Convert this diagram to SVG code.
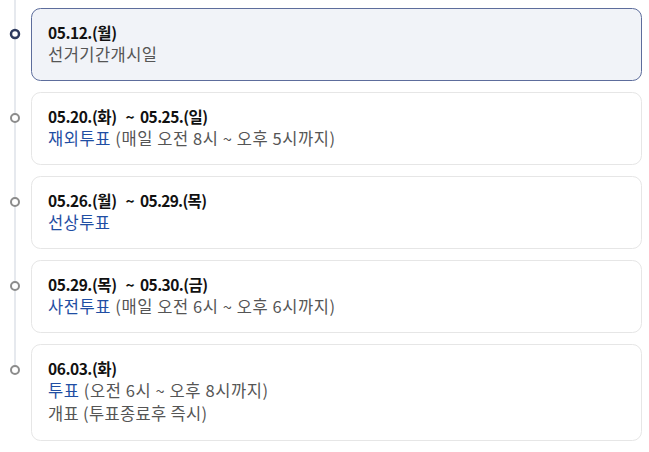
<svg xmlns="http://www.w3.org/2000/svg" width="649" height="452" viewBox="0 0 649 452">
<style>
.card{fill:#ffffff;stroke:#e6e6e6;stroke-width:1}
.active{fill:#f1f3f8;stroke:#5d6d9c;stroke-width:1}
.dot{fill:#ffffff;stroke:#8c8c8c;stroke-width:2}
.dot1{fill:#ffffff;stroke:#2e3a5e;stroke-width:2.5}
.t{font-family:"Noto Sans CJK KR","Noto Sans",sans-serif;font-size:15.5px;font-weight:bold;fill:#111111}
.s{font-family:"Noto Sans CJK KR","Noto Sans",sans-serif;font-size:16.5px;fill:#555555}
.b{fill:#1f4ea3}
</style>
<g id="connectors">
<line x1="15" y1="0" x2="15" y2="366" stroke="#e6e9ee" stroke-width="2"/>
</g>
<g id="n1">
<rect class="active" x="31.5" y="8.5" width="610" height="72" rx="9"/>
<circle class="dot1" cx="15" cy="34" r="4"/>
<text class="t" x="48" y="39" textLength="69" lengthAdjust="spacing">05.12.(월)</text>
<text class="s" x="48" y="61" textLength="109" lengthAdjust="spacing">선거기간개시일</text>
</g>
<g id="n2">
<rect class="card" x="31.5" y="92.5" width="610" height="72" rx="9"/>
<circle class="dot" cx="15" cy="118" r="4"/>
<text class="t" y="123"><tspan x="48" textLength="69" lengthAdjust="spacing">05.20.(화)</tspan><tspan x="125.5">~</tspan><tspan x="140" textLength="68" lengthAdjust="spacing">05.25.(일)</tspan></text>
<text class="s" x="48" y="145" textLength="287" lengthAdjust="spacing"><tspan class="b">재외투표</tspan> (매일 오전 8시 ~ 오후 5시까지)</text>
</g>
<g id="n3">
<rect class="card" x="31.5" y="176.5" width="610" height="72" rx="9"/>
<circle class="dot" cx="15" cy="202" r="4"/>
<text class="t" y="207"><tspan x="48" textLength="69" lengthAdjust="spacing">05.26.(월)</tspan><tspan x="125.5">~</tspan><tspan x="140" textLength="67" lengthAdjust="spacing">05.29.(목)</tspan></text>
<text class="s b" x="48" y="229" textLength="62" lengthAdjust="spacing">선상투표</text>
</g>
<g id="n4">
<rect class="card" x="31.5" y="260.5" width="610" height="72" rx="9"/>
<circle class="dot" cx="15" cy="286" r="4"/>
<text class="t" y="291"><tspan x="48" textLength="69" lengthAdjust="spacing">05.29.(목)</tspan><tspan x="125.5">~</tspan><tspan x="140" textLength="68" lengthAdjust="spacing">05.30.(금)</tspan></text>
<text class="s" x="48" y="313" textLength="287" lengthAdjust="spacing"><tspan class="b">사전투표</tspan> (매일 오전 6시 ~ 오후 6시까지)</text>
</g>
<g id="n5">
<rect class="card" x="31.5" y="344.5" width="610" height="96" rx="9"/>
<circle class="dot" cx="15" cy="370" r="4"/>
<text class="t" x="48" y="375" textLength="69" lengthAdjust="spacing">06.03.(화)</text>
<text class="s" x="48" y="397" textLength="220" lengthAdjust="spacing"><tspan class="b">투표</tspan> (오전 6시 ~ 오후 8시까지)</text>
<text class="s" x="48" y="420" textLength="159" lengthAdjust="spacing">개표 (투표종료후 즉시)</text>
</g>
</svg>
